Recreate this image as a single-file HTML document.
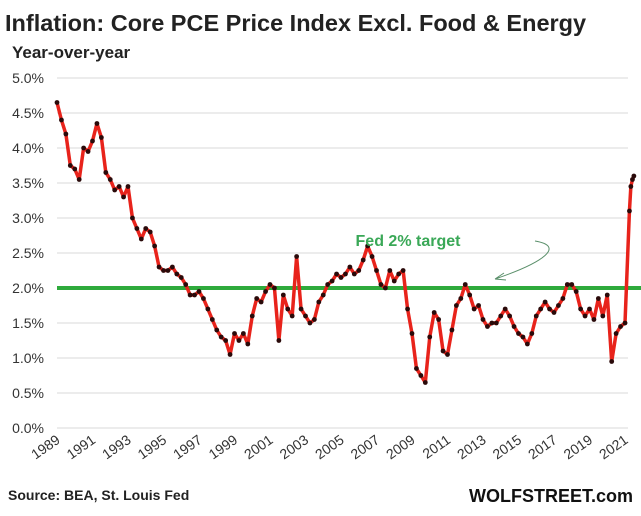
<!DOCTYPE html>
<html><head><meta charset="utf-8"><style>
body{margin:0;background:#fff;font-family:"Liberation Sans",sans-serif}
svg{display:block}
</style></head><body>
<svg id="chart" width="641" height="516">
<text x="5" y="31" font-size="23.5" font-weight="bold" fill="#222">Inflation:  Core PCE Price Index Excl. Food &amp; Energy</text>
<text x="12" y="58" font-size="17" font-weight="bold" fill="#222">Year-over-year</text>
<g id="grid"></g><g id="yticks"></g><g id="xticks"></g>
<line id="target" stroke="#2eaa3c" stroke-width="4"/>
<g id="series"></g>
<text x="408" y="246" font-size="16" font-weight="bold" fill="#3aa857" text-anchor="middle">Fed 2% target</text>
<path d="M535,241 C565,246 545,262 495,279 M495,279 l9,-6 M495,279 l11,1" fill="none" stroke="#5a8f6a" stroke-width="1"/>
<text x="8" y="500" font-size="14" font-weight="bold" fill="#222">Source: BEA, St. Louis Fed</text>
<text x="633" y="502" font-size="18" font-weight="bold" fill="#111" text-anchor="end">WOLFSTREET.com</text>
</svg>
<script>
const yTicks=[0,0.5,1,1.5,2,2.5,3,3.5,4,4.5,5];
const xLabels=[1989,1991,1993,1995,1997,1999,2001,2003,2005,2007,2009,2011,2013,2015,2017,2019,2021];
const target=2.0;
const dates=[1989,1989.25,1989.5,1989.75,1990,1990.25,1990.5,1990.75,1991,1991.25,1991.5,1991.75,1992,1992.25,1992.5,1992.75,1993,1993.25,1993.5,1993.75,1994,1994.25,1994.5,1994.75,1995,1995.25,1995.5,1995.75,1996,1996.25,1996.5,1996.75,1997,1997.25,1997.5,1997.75,1998,1998.25,1998.5,1998.75,1999,1999.25,1999.5,1999.75,2000,2000.25,2000.5,2000.75,2001,2001.25,2001.5,2001.75,2002,2002.25,2002.5,2002.75,2003,2003.25,2003.5,2003.75,2004,2004.25,2004.5,2004.75,2005,2005.25,2005.5,2005.75,2006,2006.25,2006.5,2006.75,2007,2007.25,2007.5,2007.75,2008,2008.25,2008.5,2008.75,2009,2009.25,2009.5,2009.75,2010,2010.25,2010.5,2010.75,2011,2011.25,2011.5,2011.75,2012,2012.25,2012.5,2012.75,2013,2013.25,2013.5,2013.75,2014,2014.25,2014.5,2014.75,2015,2015.25,2015.5,2015.75,2016,2016.25,2016.5,2016.75,2017,2017.25,2017.5,2017.75,2018,2018.25,2018.5,2018.75,2019,2019.25,2019.5,2019.75,2020,2020.25,2020.5,2020.75,2021,2021.25,2021.33,2021.42,2021.5];
const values=[4.65,4.4,4.2,3.75,3.7,3.55,4.0,3.95,4.1,4.35,4.15,3.65,3.55,3.4,3.45,3.3,3.45,3.0,2.85,2.7,2.85,2.8,2.6,2.3,2.25,2.25,2.3,2.2,2.15,2.05,1.9,1.9,1.95,1.85,1.7,1.55,1.4,1.3,1.25,1.05,1.35,1.25,1.35,1.2,1.6,1.85,1.8,1.95,2.05,2.0,1.25,1.9,1.7,1.6,2.45,1.7,1.6,1.5,1.55,1.8,1.9,2.05,2.1,2.2,2.15,2.2,2.3,2.2,2.25,2.4,2.6,2.45,2.25,2.05,2.0,2.25,2.1,2.2,2.25,1.7,1.35,0.85,0.75,0.65,1.3,1.65,1.55,1.1,1.05,1.4,1.75,1.85,2.05,1.9,1.7,1.75,1.55,1.45,1.5,1.5,1.6,1.7,1.6,1.45,1.35,1.3,1.2,1.35,1.6,1.7,1.8,1.7,1.65,1.75,1.85,2.05,2.05,1.95,1.7,1.6,1.7,1.55,1.85,1.6,1.9,0.95,1.35,1.45,1.5,3.1,3.45,3.55,3.6];
const NS='http://www.w3.org/2000/svg';
const X0=57,PX=17.75,Y0=428,PY=70;
const xs=d=>X0+(d-1989)*PX, ys=v=>Y0-v*PY;
function mk(t,a,p){const e=document.createElementNS(NS,t);for(const k in a)e.setAttribute(k,a[k]);p.appendChild(e);return e;}
const grid=document.getElementById('grid'),yt=document.getElementById('yticks'),xt=document.getElementById('xticks'),ser=document.getElementById('series');
yTicks.forEach(v=>{
 const l=mk('line',{x1:57,x2:628,y1:ys(v),y2:ys(v),stroke:'#d9d9d9','stroke-width':1},grid);
 
 
 const t=mk('text',{x:44,y:ys(v)+5,'font-size':14,fill:'#333','text-anchor':'end'},yt);
 t.textContent=v.toFixed(1)+'%';
 
 
});
xLabels.forEach(y=>{
 const x=xs(y)+4;
 const t=mk('text',{x:x,y:442,'font-size':14,fill:'#333','text-anchor':'end',transform:`rotate(-35 ${x} 442)`},xt);
 t.textContent=y;
 
 
});
const tl=document.getElementById('target');
tl.setAttribute('x1',57);tl.setAttribute('x2',641);tl.setAttribute('y1',ys(target));tl.setAttribute('y2',ys(target));
const pts=dates.map((d,i)=>xs(d)+','+ys(values[i])).join(' ');
const pl=mk('polyline',{points:pts,fill:'none',stroke:'#e8231b','stroke-width':3.5,'stroke-linejoin':'round'},ser);


dates.forEach((d,i)=>{
 const c=mk('circle',{cx:xs(d),cy:ys(values[i]),r:2.4,fill:'#2a0a0a'},ser);
 
 
});
</script>
</body></html>
